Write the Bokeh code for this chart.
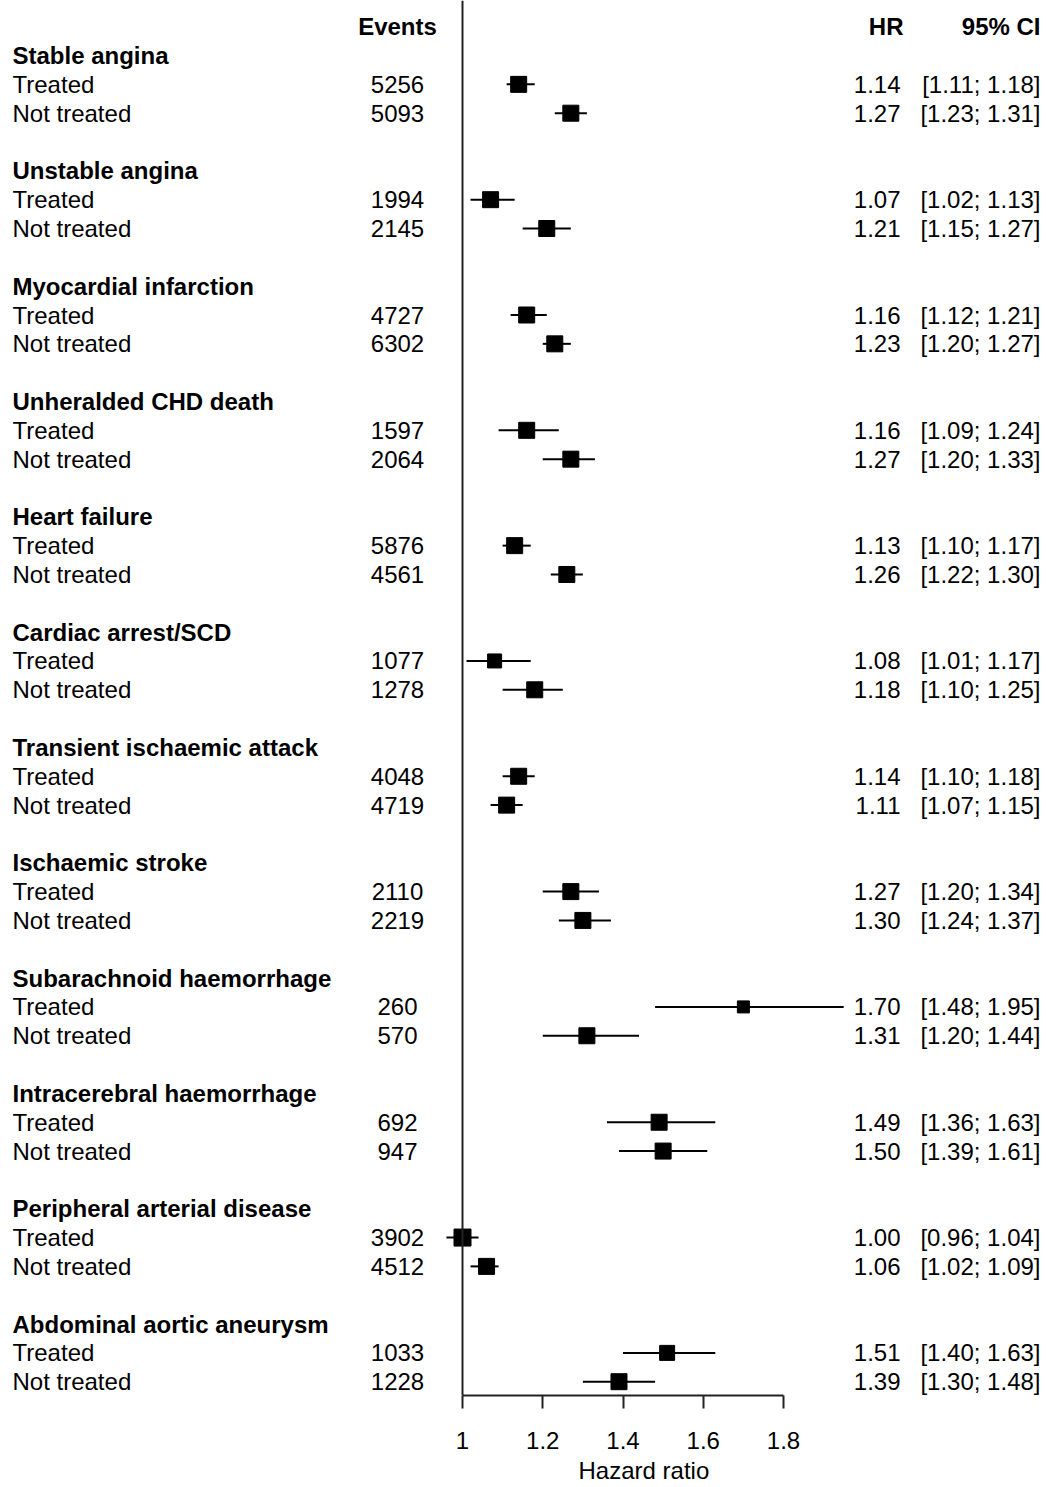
from bokeh.plotting import figure
from bokeh.models import ColumnDataSource, Range1d, Span, FixedTicker, CustomJSTickFormatter, Title
from bokeh.core.properties import value
from bokeh.embed import file_html
from bokeh.resources import INLINE

# outcomes, in the order they are listed
groups = ["Stable angina", "Unstable angina", "Myocardial infarction",
          "Unheralded CHD death", "Heart failure", "Cardiac arrest/SCD",
          "Transient ischaemic attack", "Ischaemic stroke",
          "Subarachnoid haemorrhage", "Intracerebral haemorrhage",
          "Peripheral arterial disease", "Abdominal aortic aneurysm"]

events_treated = [5256, 1994, 4727, 1597, 5876, 1077, 4048, 2110, 260, 692, 3902, 1033]
events_not = [5093, 2145, 6302, 2064, 4561, 1278, 4719, 2219, 570, 947, 4512, 1228]

hr_treated = [1.14, 1.07, 1.16, 1.16, 1.13, 1.08, 1.14, 1.27, 1.70, 1.49, 1.00, 1.51]
lo_treated = [1.11, 1.02, 1.12, 1.09, 1.10, 1.01, 1.10, 1.20, 1.48, 1.36, 0.96, 1.40]
hi_treated = [1.18, 1.13, 1.21, 1.24, 1.17, 1.17, 1.18, 1.34, 1.95, 1.63, 1.04, 1.63]

hr_not = [1.27, 1.21, 1.23, 1.27, 1.26, 1.18, 1.11, 1.30, 1.31, 1.50, 1.06, 1.39]
lo_not = [1.23, 1.15, 1.20, 1.20, 1.22, 1.10, 1.07, 1.24, 1.20, 1.39, 1.02, 1.30]
hi_not = [1.31, 1.27, 1.27, 1.33, 1.30, 1.25, 1.15, 1.37, 1.44, 1.61, 1.09, 1.48]

ticks = [1, 1.2, 1.4, 1.6, 1.8]

# box side in px (study weight), as drawn
box_treated = [16, 16, 16, 16, 16, 14, 16, 16, 12, 16, 17, 15]
box_not = [16, 16, 16, 16, 16, 16, 16, 16, 16, 16, 16, 16]

FONT = value("Liberation Sans")
FS = "24px"
ROW = 28.83            # px per text line
TOP = 26.2             # px from frame top to the header line
FRAME_W, FRAME_H = 1046, 1395
PX = 1 / 401.25        # hazard ratio units per px
X0 = 1 - 462 * PX      # HR = 1 sits 462 px from the left edge


def px(xpix):
    return X0 + xpix * PX


n = len(groups)
head_y = [1 + 4 * k for k in range(n)]
tr_y = [2 + 4 * k for k in range(n)]
nt_y = [3 + 4 * k for k in range(n)]

est = ColumnDataSource(dict(
    y=tr_y + nt_y,
    hr=hr_treated + hr_not,
    lo=lo_treated + lo_not,
    hi=hi_treated + hi_not,
    size=box_treated + box_not,
    ev=[str(e) for e in events_treated + events_not],
    hr_txt=["%.2f" % h for h in hr_treated + hr_not],
    ci_txt=["[%.2f; %.2f]" % (a, b) for a, b in zip(lo_treated + lo_not, hi_treated + hi_not)],
    lab=["Treated"] * n + ["Not treated"] * n,
))

p = figure(frame_width=FRAME_W, frame_height=FRAME_H,
           x_range=Range1d(px(0), px(FRAME_W)),
           y_range=Range1d((FRAME_H - TOP) / ROW, -TOP / ROW),
           y_axis_type=None, toolbar_location=None, output_backend="svg",
           min_border_left=0, min_border_right=0, min_border_top=0, min_border_bottom=0)
p.outline_line_color = None
p.grid.visible = False

p.add_layout(Span(location=1, dimension="height", line_color="#222222", line_width=2))

p.segment(x0="lo", y0="y", x1="hi", y1="y", source=est, line_color="black", line_width=2)
p.scatter(x="hr", y="y", size="size", marker="square", source=est, color="black")

txt = dict(text_font=FONT, text_font_size=FS, text_color="black", text_baseline="middle", y_offset=0)

# row labels
p.text(x=px(12), y=head_y, text=groups, text_align="left", text_font_style="bold", **txt)
p.text(x=px(12), y="y", text="lab", source=est, text_align="left", **txt)

# columns
p.text(x=px(397), y="y", text="ev", source=est, text_align="center", **txt)
p.text(x=px(900), y="y", text="hr_txt", source=est, text_align="right", **txt)
p.text(x=px(1040), y="y", text="ci_txt", source=est, text_align="right", **txt)

# header line
p.text(x=px(397), y=[0], text=["Events"], text_align="center", text_font_style="bold", **txt)
p.text(x=px(903), y=[0], text=["HR"], text_align="right", text_font_style="bold", **txt)
p.text(x=px(1040), y=[0], text=["95% CI"], text_align="right", text_font_style="bold", **txt)

ax = p.xaxis[0]
ax.bounds = (1, 1.8)
ax.ticker = FixedTicker(ticks=ticks)
ax.formatter = CustomJSTickFormatter(code="return String(Math.round(tick * 10) / 10);")
ax.axis_line_width = 2
ax.axis_line_color = "#222222"
ax.major_tick_line_width = 2
ax.major_tick_line_color = "#222222"
ax.major_tick_out = 13
ax.major_tick_in = 0
ax.minor_tick_out = 0
ax.minor_tick_in = 0
ax.major_label_text_font = "Liberation Sans"
ax.major_label_text_font_size = FS
ax.major_label_text_color = "black"
ax.major_label_standoff = 23

# axis title, placed under the tick labels where the original has it
p.add_layout(Title(text="Hazard ratio", align="left", offset=578, standoff=7,
                   text_font="Liberation Sans", text_font_size=FS,
                   text_font_style="normal", text_color="black"), "below")

open("out.html", "w").write(file_html(p, INLINE))
